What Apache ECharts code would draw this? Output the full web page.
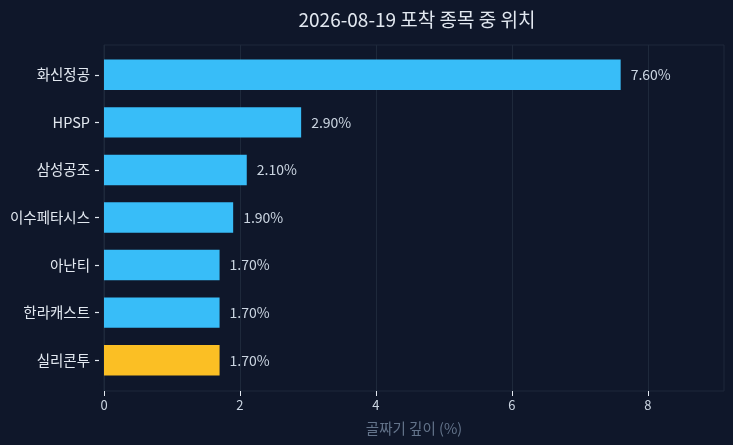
<!DOCTYPE html>
<html>
<head>
<meta charset="utf-8">
<script src="https://cdn.jsdelivr.net/npm/echarts@6/dist/echarts.min.js"></script>
<style>
html, body { margin: 0; padding: 0; background: #0f172a; }
#main { width: 733px; height: 445px; }
</style>
</head>
<body>
<div id="main"></div>
<script>
// 종목명 (위에서 아래 순서)
var categories = ['화신정공', 'HPSP', '삼성공조', '이수페타시스', '아난티', '한라캐스트', '실리콘투'];
// 골짜기 깊이 (%)
var depths = [7.6, 2.9, 2.1, 1.9, 1.7, 1.7, 1.7];
var highlightName = '실리콘투';
var xTicks = [0, 2, 4, 6, 8];

var myChart = echarts.init(document.getElementById('main'));

var xMax = Math.max.apply(null, depths) * 1.2;
var fontKR = 'Noto Sans CJK KR';

var barData = categories.map(function (name, i) {
    return {
        value: depths[i],
        itemStyle: { color: name === highlightName ? '#fbbf24' : '#38bdf8' }
    };
});

var option = {
    backgroundColor: '#0f172a',
    textStyle: { fontFamily: fontKR },
    title: {
        text: '2026-08-19 포착 종목 중 위치',
        left: 412,
        top: 5,
        textAlign: 'center',
        textStyle: {
            color: '#e2e8f0',
            fontSize: 19,
            fontWeight: 'normal',
            fontFamily: fontKR
        }
    },
    // grid 0 : 테두리 + x축, grid 1 : 막대
    grid: [
        {
            left: 104, right: 9, top: 45, bottom: 54,
            show: true,
            borderColor: '#1e293b',
            borderWidth: 1
        },
        {
            left: 104, right: 9, top: 51, bottom: 61
        }
    ],
    xAxis: [
        {
            gridIndex: 0,
            type: 'value',
            min: 0,
            max: xMax,
            interval: 2,
            name: '골짜기 깊이 (%)',
            nameLocation: 'middle',
            nameGap: 30,
            nameTextStyle: { color: '#64748b', fontSize: 14.5 },
            axisLine: { show: false },
            axisTick: { show: true, length: 5, customValues: xTicks, lineStyle: { color: '#e2e8f0' } },
            axisLabel: { color: '#cbd5e1', fontSize: 13, customValues: xTicks },
            splitLine: { show: true, lineStyle: { color: '#1e293b' } }
        },
        {
            gridIndex: 1,
            type: 'value',
            min: 0,
            max: xMax,
            show: false
        }
    ],
    yAxis: [
        {
            gridIndex: 0,
            type: 'value',
            show: false
        },
        {
            gridIndex: 1,
            type: 'category',
            data: categories,
            inverse: true,
            offset: 5,
            axisLine: { show: true, onZero: false, lineStyle: { color: '#0f172a' } },
            axisTick: {
                show: true,
                length: 4,
                interval: 0,
                alignWithLabel: true,
                lineStyle: { color: '#e2e8f0', width: 1.2 }
            },
            axisLabel: { color: '#e2e8f0', fontSize: 14.5, margin: 9 },
            splitLine: { show: false }
        }
    ],
    series: [{
        type: 'bar',
        xAxisIndex: 1,
        yAxisIndex: 1,
        data: barData,
        barWidth: '64%',
        label: {
            show: true,
            position: 'right',
            distance: 10,
            color: '#cbd5e1',
            fontSize: 14,
            formatter: function (p) { return p.value.toFixed(2) + '%'; }
        }
    }]
};

myChart.setOption(option);
</script>
</body>
</html>
